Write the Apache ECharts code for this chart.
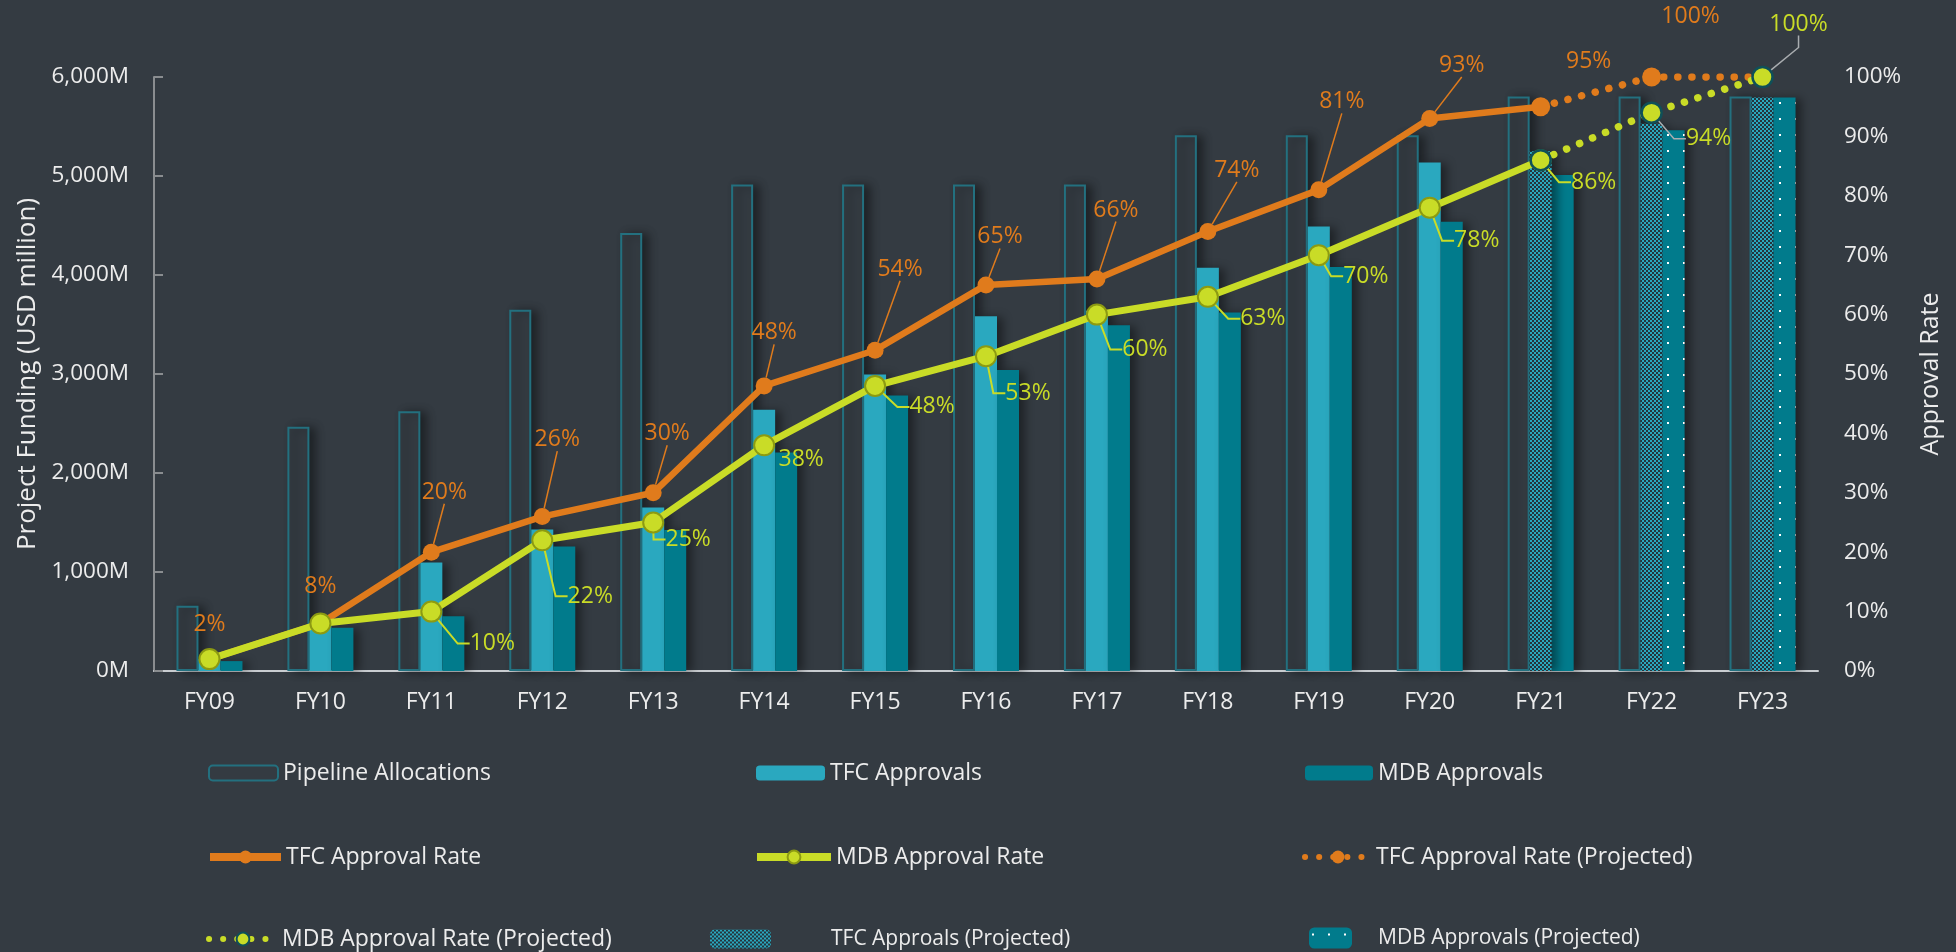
<!DOCTYPE html>
<html>
<head>
<meta charset="utf-8">
<script src="https://cdn.jsdelivr.net/npm/echarts@6/dist/echarts.min.js"></script>
<style>
html,body{margin:0;padding:0;background:#343b42;}
#c{width:1956px;height:952px;}
</style>
</head>
<body>
<div id="c"></div>
<script>
// ---------- DATA ----------
const categories = ['FY09','FY10','FY11','FY12','FY13','FY14','FY15','FY16','FY17','FY18','FY19','FY20','FY21','FY22','FY23'];
const pipelineAllocations = [658, 2466, 2624, 3650, 4425, 4915, 4915, 4915, 4915, 5412, 5412, 5412, 5803, 5803, 5803];
const tfcApprovals        = [120, 465, 1095, 1430, 1652, 2638, 2995, 3584, 3640, 4072, 4489, 5136, null, null, null];
const mdbApprovals        = [100, 438, 552, 1258, 1425, 2208, 2783, 3041, 3493, 3620, 4081, 4538, 5009, null, null];
const tfcApprovalsProjected = [null, null, null, null, null, null, null, null, null, null, null, null, 5250, 5529, 5792];
const mdbApprovalsProjected = [null, null, null, null, null, null, null, null, null, null, null, null, null, 5462, 5792];
const tfcApprovalRate = [2, 8, 20, 26, 30, 48, 54, 65, 66, 74, 81, 93, 95, null, null];
const mdbApprovalRate = [2, 8, 10, 22, 25, 38, 48, 53, 60, 63, 70, 78, 86, null, null];
const tfcApprovalRateProjected = [null, null, null, null, null, null, null, null, null, null, null, null, 95, 100, 100];
const mdbApprovalRateProjected = [null, null, null, null, null, null, null, null, null, null, null, null, 86, 94, 100];

// which points carry a visible value label
const tfcRateLabelShown    = [1,1,1,1,1,1,1,1,1,1,1,1,1,0,0];
const mdbRateLabelShown    = [0,0,1,1,1,1,1,1,1,1,1,1,1,0,0];
const tfcProjLabelShown    = [0,0,0,0,0,0,0,0,0,0,0,0,0,1,0];
const mdbProjLabelShown    = [0,0,0,0,0,0,0,0,0,0,0,0,0,1,1];

// ---------- LAYOUT (label offsets / leader lines) ----------
const tfcLblDx = [0, 0, 13, 15, 14, 10, 25, 14, 19, 29, 23, 32, 48, 0, 0];
const tfcLblDy = [-35, -37, -60, -77, -59, -53, -81, -48, -69, -61, -88, -53, -45, 0, 0];
const tfcLeader = [0,0,1,1,1,1,1,1,1,1,1,1,0,0,0];
const mdbLblDx = [0, 0, 61, 48, 35, 37, 57, 42, 48, 55, 47, 47, 53, 0, 0];
const mdbLblDy = [0, 0, 32, 56, 17, 14, 21, 37, 35, 22, 21, 33, 22, 0, 0];
const mdbLeader = [0,0,1,1,1,0,1,1,1,1,1,1,1,0,0];
const tfcProjDx = [0,0,0,0,0,0,0,0,0,0,0,0,0,39,0];
const tfcProjDy = [0,0,0,0,0,0,0,0,0,0,0,0,0,-61,0];
const mdbProjDx = [0,0,0,0,0,0,0,0,0,0,0,0,0,57,36];
const mdbProjDy = [0,0,0,0,0,0,0,0,0,0,0,0,0,26,-53];

// ---------- STYLE ----------
const FONT = "'Open Sans', 'Noto Sans', sans-serif";
const BG = '#343b42';
const TXT = '#ececec';
const ORANGE = '#e07b1c';
const LIME = '#c9dc27';
const TFC_C = '#2aa8bf';
const MDB_C = '#017b8c';
const PIPE_C = '#23707f';

function checkerPattern() {
  const c = document.createElement('canvas');
  c.width = 4; c.height = 4;
  const g = c.getContext('2d');
  g.fillStyle = TFC_C; g.fillRect(0, 0, 4, 4);
  g.fillStyle = '#25343c';
  g.fillRect(0, 0, 2, 2); g.fillRect(2, 2, 2, 2);
  return c;
}
function dotPattern() {
  const c = document.createElement('canvas');
  c.width = 16; c.height = 16;
  const g = c.getContext('2d');
  g.fillStyle = MDB_C; g.fillRect(0, 0, 16, 16);
  g.fillStyle = '#ffffff';
  g.fillRect(3, 6, 2, 2);
  return c;
}
const checker = { image: checkerPattern(), repeat: 'repeat' };
const dots = { image: dotPattern(), repeat: 'repeat' };

const barShadow = { shadowColor: 'rgba(0,0,0,0.42)', shadowBlur: 10, shadowOffsetX: 6, shadowOffsetY: 1 };

function rateData(values, shown, leader) {
  return values.map((v, i) => ({
    value: v,
    label: { show: !!shown[i] },
    labelLine: { show: !!(leader && leader[i]) }
  }));
}

function legendItem(name, left, cy, w, h, fs, padLeft, lineW) {
  const hh = Math.max(h, fs);
  const l = {
    data: [name], left: left, top: cy - hh / 2, padding: 0,
    itemWidth: w, itemHeight: h, selectedMode: false,
    textStyle: { color: TXT, fontSize: fs, fontFamily: FONT, padding: [0, 0, 0, padLeft || 0] }
  };
  if (lineW) l.lineStyle = { width: lineW };
  return l;
}

const chart = echarts.init(document.getElementById('c'), null, { renderer: 'canvas' });

const option = {
  backgroundColor: BG,
  animation: false,
  textStyle: { fontFamily: FONT },
  grid: { left: 154, right: 138, top: 77, bottom: 281, containLabel: false },
  legend: [
    legendItem('Pipeline Allocations', 208, 773, 69, 15, 23),
    legendItem('TFC Approvals', 756, 773, 69, 15, 23),
    legendItem('MDB Approvals', 1305, 773, 68, 15, 23),
    legendItem('TFC Approval Rate', 206, 857, 71, 16, 23, 0, 8),
    legendItem('MDB Approval Rate', 753, 857, 74, 16, 23, 0, 8),
    legendItem('TFC Approval Rate (Projected)', 1302, 857, 66, 16, 23, 0, 6),
    legendItem('MDB Approval Rate (Projected)', 206, 939, 68, 16, 23, 0, 6),
    legendItem('TFC Approals (Projected)', 710, 939, 61, 19, 21, 55),
    legendItem('MDB Approvals (Projected)', 1309, 938, 43, 21, 21, 21)
  ],
  xAxis: {
    type: 'category',
    data: categories,
    axisLine: { show: true, lineStyle: { color: '#c9cdd1', width: 2 } },
    axisTick: { show: false },
    axisLabel: { color: TXT, fontSize: 23, fontFamily: FONT, margin: 20 },
    splitLine: { show: false }
  },
  yAxis: [
    {
      type: 'value', min: 0, max: 6000, interval: 1000,
      name: 'Project Funding (USD million)', nameLocation: 'middle', nameGap: 110,
      nameTextStyle: { color: TXT, fontSize: 26, fontFamily: FONT },
      axisLine: { show: true, lineStyle: { color: '#8a8d90', width: 2 } },
      axisTick: { show: true, inside: true, length: 9, lineStyle: { color: '#8a8d90', width: 2 } },
      axisLabel: { color: TXT, fontSize: 22.5, fontFamily: FONT, margin: 25,
        formatter: v => v.toLocaleString('en-US') + 'M' },
      splitLine: { show: false }
    },
    {
      type: 'value', min: 0, max: 100, interval: 10,
      name: 'Approval Rate', nameLocation: 'middle', nameGap: 100, nameRotate: 90,
      nameTextStyle: { color: TXT, fontSize: 25, fontFamily: FONT },
      axisLine: { show: false }, axisTick: { show: false },
      axisLabel: { color: TXT, fontSize: 22.5, fontFamily: FONT, margin: 26, formatter: '{value}%' },
      splitLine: { show: false }
    }
  ],
  series: [
    {
      name: 'Pipeline Allocations', type: 'bar', data: pipelineAllocations,
      barGap: '0%', barCategoryGap: '40.5%',
      itemStyle: Object.assign({ color: BG, borderColor: PIPE_C, borderWidth: 2 }, barShadow)
    },
    {
      name: 'TFC Approvals', type: 'bar', stack: 'tfc', data: tfcApprovals,
      barGap: '0%', barCategoryGap: '40.5%',
      itemStyle: Object.assign({ color: TFC_C }, barShadow)
    },
    {
      name: 'MDB Approvals', type: 'bar', stack: 'mdb', data: mdbApprovals,
      barGap: '0%', barCategoryGap: '40.5%',
      itemStyle: Object.assign({ color: MDB_C }, barShadow)
    },
    {
      name: 'TFC Approals (Projected)', type: 'bar', stack: 'tfc', data: tfcApprovalsProjected,
      barGap: '0%', barCategoryGap: '40.5%',
      itemStyle: Object.assign({ color: checker }, barShadow)
    },
    {
      name: 'MDB Approvals (Projected)', type: 'bar', stack: 'mdb', data: mdbApprovalsProjected,
      barGap: '0%', barCategoryGap: '40.5%',
      itemStyle: Object.assign({ color: dots }, barShadow)
    },
    {
      name: 'TFC Approval Rate', type: 'line', yAxisIndex: 1,
      data: rateData(tfcApprovalRate, tfcRateLabelShown, tfcLeader),
      symbol: 'circle', symbolSize: 17,
      lineStyle: { color: ORANGE, width: 6.5 },
      itemStyle: { color: ORANGE },
      label: { show: true, position: 'inside', formatter: '{c}%', color: ORANGE, fontSize: 23, fontFamily: FONT },
      labelLine: { show: true, length2: 0, lineStyle: { color: ORANGE, width: 1.5 } },
      labelLayout: p => ({ dx: tfcLblDx[p.dataIndex], dy: tfcLblDy[p.dataIndex] })
    },
    {
      name: 'MDB Approval Rate', type: 'line', yAxisIndex: 1,
      data: rateData(mdbApprovalRate, mdbRateLabelShown, mdbLeader),
      symbol: 'circle', symbolSize: 20,
      lineStyle: { color: LIME, width: 7 },
      itemStyle: { color: LIME, borderColor: '#8c9a12', borderWidth: 2 },
      label: { show: true, position: 'inside', formatter: '{c}%', color: LIME, fontSize: 23, fontFamily: FONT },
      labelLine: { show: true, length2: 12, lineStyle: { color: LIME, width: 2 } },
      labelLayout: p => ({ dx: mdbLblDx[p.dataIndex], dy: mdbLblDy[p.dataIndex] })
    },
    {
      name: 'TFC Approval Rate (Projected)', type: 'line', yAxisIndex: 1,
      data: rateData(tfcApprovalRateProjected, tfcProjLabelShown, null),
      symbol: 'circle', symbolSize: 19,
      lineStyle: { color: ORANGE, width: 7.5, type: [0.1, 14], cap: 'round' },
      itemStyle: { color: ORANGE },
      label: { show: true, position: 'inside', formatter: '{c}%', color: ORANGE, fontSize: 23, fontFamily: FONT },
      labelLayout: p => ({ dx: tfcProjDx[p.dataIndex], dy: tfcProjDy[p.dataIndex] })
    },
    {
      name: 'MDB Approval Rate (Projected)', type: 'line', yAxisIndex: 1,
      data: rateData(mdbApprovalRateProjected, mdbProjLabelShown, mdbProjLabelShown),
      symbol: 'circle', symbolSize: 20,
      lineStyle: { color: LIME, width: 7.5, type: [0.1, 14], cap: 'round' },
      itemStyle: { color: LIME, borderColor: '#0f5058', borderWidth: 2.5 },
      label: { show: true, position: 'inside', formatter: '{c}%', color: LIME, fontSize: 23, fontFamily: FONT },
      labelLine: { show: true, length2: 12, lineStyle: { color: '#a9adb0', width: 1.5 } },
      labelLayout: p => ({ dx: mdbProjDx[p.dataIndex], dy: mdbProjDy[p.dataIndex] })
    }
  ]
};
chart.setOption(option);
</script>
</body>
</html>
